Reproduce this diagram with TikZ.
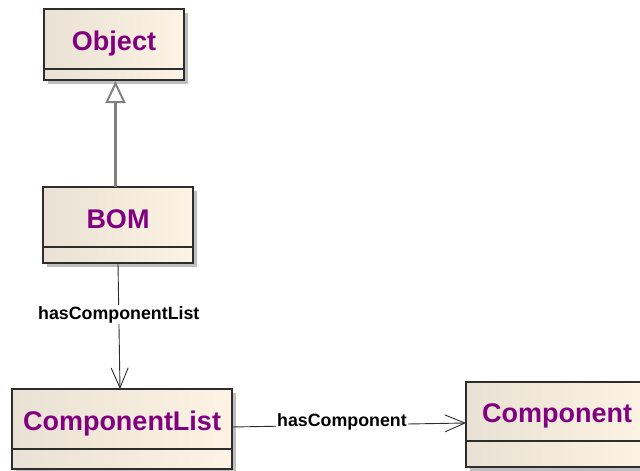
\documentclass[tikz,border=0pt]{standalone}
\usepackage{fontspec}
\setmainfont{Liberation Sans}
\usetikzlibrary{arrows.meta,backgrounds}
\definecolor{boxL}{RGB}{233,225,211}
\definecolor{boxR}{RGB}{252,243,228}
\definecolor{nameC}{RGB}{128,0,128}
\definecolor{edgeC}{RGB}{45,45,45}
\definecolor{genC}{RGB}{128,128,128}
\definecolor{shadowC}{RGB}{190,190,190}
\begin{document}
\begin{tikzpicture}[x=1pt,y=-1pt,
  classname/.style={draw=edgeC, line width=1.3pt, left color=boxL, right color=boxR,
    inner sep=0pt, outer sep=0pt, anchor=north west, text=nameC,
    text height=22pt, text depth=0pt,
    font=\fontsize{27}{31}\selectfont\bfseries},
  classpart/.style={draw=edgeC, line width=1.3pt, left color=boxL, right color=boxR,
    inner sep=0pt, outer sep=0pt, anchor=north},
  assoc/.style={draw=edgeC, line width=0.9pt, -{Straight Barb[length=20pt,width=17pt]}},
  gen/.style={draw=genC, line width=2.4pt, -{Triangle[open, length=22pt, width=20pt, fill=white, line width=2pt]}},
  rolelabel/.style={fill=white, inner sep=1pt, text=black,
    font=\fontsize{17.8}{21}\selectfont\bfseries},
  boxshadow/.style={fill=shadowC}
]
\useasboundingbox (0,0) rectangle (640,471);
\clip (0,0) rectangle (640,471);

% classes: name compartment plus an empty attribute compartment
\node[classname, minimum width=140pt, minimum height=60pt] (obj) at (44,9) {Object};
\node[classpart, minimum width=140pt, minimum height=11pt] (objA) at (obj.south) {};

\node[classname, minimum width=150pt, minimum height=60pt] (bom) at (43,187) {BOM};
\node[classpart, minimum width=150pt, minimum height=16pt] (bomA) at (bom.south) {};

\node[classname, minimum width=220pt, minimum height=60pt] (cl) at (12,389) {ComponentList};
\node[classpart, minimum width=220pt, minimum height=20pt] (clA) at (cl.south) {};

\node[classname, minimum width=182pt, minimum height=59pt] (comp) at (466,382) {Component};
\node[classpart, minimum width=182pt, minimum height=26pt] (compA) at (comp.south) {};

% drop shadows behind each class
\begin{scope}[on background layer]
  \foreach \top/\bot in {obj/objA, bom/bomA, cl/clA, comp/compA}
    \fill[boxshadow] ([xshift=4pt,yshift=-4pt]\top.north west) rectangle ([xshift=4pt,yshift=-4pt]\bot.south east);
\end{scope}

% generalization BOM -> Object
\coordinate (gx) at ([xshift=1.5pt,yshift=-1pt]objA.south);
\draw[gen] (bom.north -| gx) -- (gx);

% associations
\draw[assoc] (bomA.south) -- ([xshift=-2pt]cl.north)
  node[rolelabel, pos=0.41] {hasComponentList};
\draw[assoc] ([yshift=-8pt]cl.east) -- ([yshift=-11.5pt]comp.west)
  node[rolelabel, pos=0.47, yshift=3pt] {hasComponent};
\end{tikzpicture}
\end{document}
